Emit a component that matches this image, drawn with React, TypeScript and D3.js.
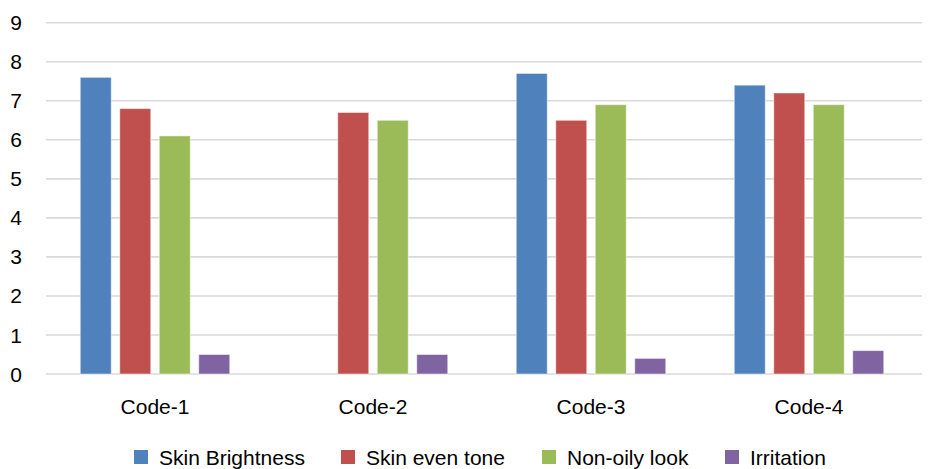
import React from "react";
import * as d3 from "d3";

const categories = ["Code-1", "Code-2", "Code-3", "Code-4"];
const seriesNames = ["Skin Brightness", "Skin even tone", "Non-oily look", "Irritation"];
const skinBrightness = [7.6, 0, 7.7, 7.4];
const skinEvenTone = [6.8, 6.7, 6.5, 7.2];
const nonOilyLook = [6.1, 6.5, 6.9, 6.9];
const irritation = [0.5, 0.5, 0.4, 0.6];
const yTicks = [0, 1, 2, 3, 4, 5, 6, 7, 8, 9];
const colors = ["#4f81bd", "#c0504d", "#9bbb59", "#8064a2"];

const seriesValues = [skinBrightness, skinEvenTone, nonOilyLook, irritation];

const W = 928;
const H = 469;
const left = 46;
const right = 918;
const top = 22.7;
const bottom = 374;
const groupWidth = 149.5;
const FONT = "'Liberation Sans', Arial, sans-serif";
const FS = 21;

export default function App() {
  const x = d3.scaleBand<string>().domain(categories).range([left, right]).padding(0);
  const y = d3.scaleLinear().domain([0, 9]).range([bottom, top]);
  const inner = d3
    .scaleBand<number>()
    .domain(d3.range(seriesNames.length))
    .range([0, groupWidth])
    .paddingInner(0.215)
    .paddingOuter(0);
  const groupOffset = (x.bandwidth() - groupWidth) / 2;

  const legendX = [134, 341, 542, 725];

  return (
    <svg width={W} height={H} style={{ position: "absolute", left: 0, top: 0, background: "#fff" }}>
      {yTicks.map((t) => (
        <g key={t}>
          <line x1={left} x2={right + 4} y1={y(t)} y2={y(t)} stroke="#d9d9d9" strokeWidth={1.6} />
          <text x={22} y={y(t)} dy="0.36em" textAnchor="end" fontFamily={FONT} fontSize={FS} fill="#000">
            {t}
          </text>
        </g>
      ))}
      {categories.map((c, ci) => (
        <g key={c}>
          {seriesValues.map((vals, si) =>
            vals[ci] > 0 ? (
              <rect
                key={si}
                x={(x(c) as number) + groupOffset + (inner(si) as number)}
                y={y(vals[ci])}
                width={inner.bandwidth()}
                height={y(0) - y(vals[ci])}
                fill={colors[si]}
                stroke="#ffffff"
                strokeOpacity={0.5}
                strokeWidth={1}
              />
            ) : null
          )}
          <text
            x={(x(c) as number) + x.bandwidth() / 2}
            y={414}
            textAnchor="middle"
            fontFamily={FONT}
            fontSize={FS}
            fill="#000"
          >
            {c}
          </text>
        </g>
      ))}
      {seriesNames.map((s, i) => (
        <g key={s}>
          <rect x={legendX[i]} y={450} width={14} height={14} fill={colors[i]} />
          <text x={legendX[i] + 25} y={465} fontFamily={FONT} fontSize={FS} fill="#000">
            {s}
          </text>
        </g>
      ))}
    </svg>
  );
}
